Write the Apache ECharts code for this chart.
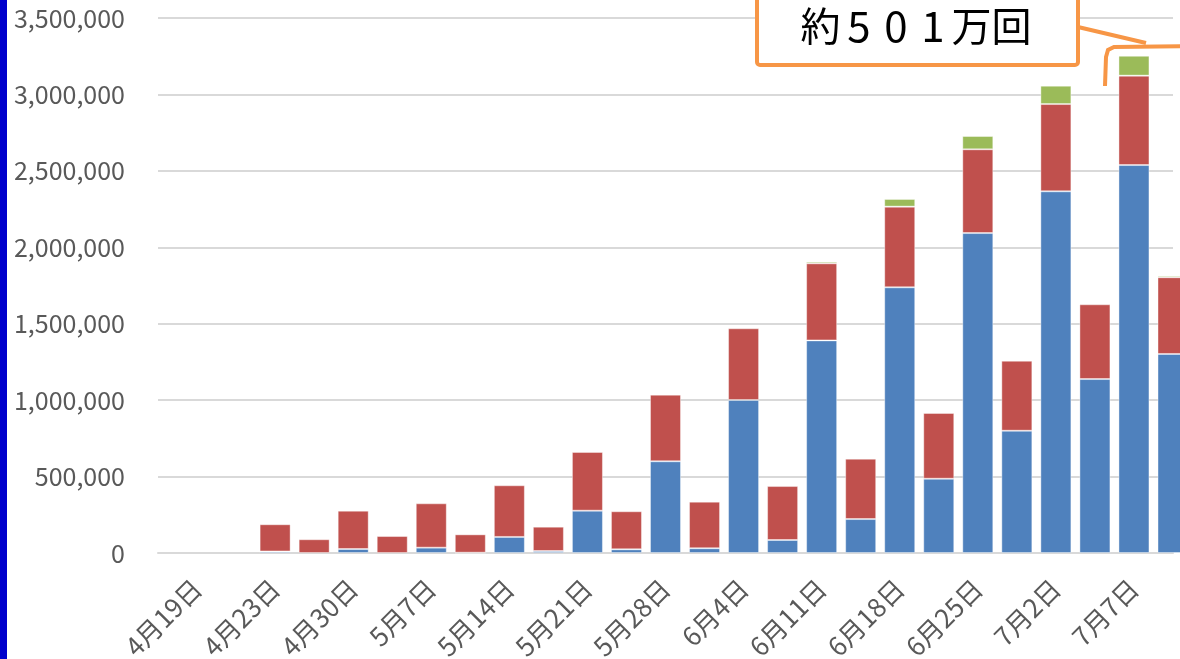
<!DOCTYPE html>
<html>
<head>
<meta charset="utf-8">
<script src="https://cdn.jsdelivr.net/npm/echarts@6/dist/echarts.min.js"></script>
<style>
  html, body { margin: 0; padding: 0; background: #fff; }
  #main { width: 1180px; height: 659px; }
</style>
</head>
<body>
<div id="main"></div>
<script>
// 日付（ラベルは1つおき）
const categories = ["", "4月19日", "", "4月23日", "", "4月30日", "", "5月7日", "", "5月14日", "", "5月21日", "", "5月28日", "",
  "6月4日", "", "6月11日", "", "6月18日", "", "6月25日", "", "7月2日", "", "7月7日", ""];

const blueValues = [null, null, null, 10000, null, 26000, null, 35000, 2000, 105000, 13000, 277000, 24000, 600000, 31000,
  1001000, 85000, 1391000, 222000, 1738000, 486000, 2093000, 800000, 2366000, 1138000, 2538000, 1302000];
const redValues = [null, null, null, 178000, 90000, 251000, 111000, 290000, 120000, 338000, 159000, 384000, 249000, 436000, 305000,
  469000, 353000, 504000, 395000, 528000, 430000, 548000, 458000, 571000, 489000, 585000, 502000];
const greenValues = [null, null, null, null, null, null, null, null, null, null, null, null, null, null, null,
  null, null, 11000, null, 50000, null, 87000, null, 120000, null, 130000, 10000];

const yTicks = { min: 0, max: 3500000, interval: 500000 };

const orange = "#F79646";
const labelFont = "'Noto Sans CJK JP', 'Noto Sans', sans-serif";

function barSeries(name, data, color) {
  return {
    name: name,
    type: "bar",
    stack: "total",
    barWidth: 31,
    data: data,
    itemStyle: {
      color: color,
      borderColor: "rgba(255,255,255,0.4)",
      borderWidth: 1,
    },
  };
}

let option = {
  backgroundColor: "#ffffff",
  animation: false,
  // ラベルがはみ出してもグリッドを縮めない
  grid: { left: 158, right: 7, top: 18, bottom: 106, containLabel: false, outerBoundsMode: "none" },
  xAxis: {
    type: "category",
    data: categories,
    boundaryGap: false, // 先頭の空カテゴリが左端に来る
    axisLine: { lineStyle: { color: "#d9d9d9", width: 2 } },
    axisTick: { show: false },
    axisLabel: {
      interval: 0,
      rotate: 45,
      margin: 31,
      color: "#595959",
      fontSize: 26,
      fontFamily: labelFont,
    },
  },
  yAxis: {
    type: "value",
    min: yTicks.min,
    max: yTicks.max,
    interval: yTicks.interval,
    axisLine: { show: false },
    axisTick: { show: false },
    splitLine: { lineStyle: { color: "#d9d9d9", width: 2 } },
    axisLabel: {
      margin: 33,
      color: "#595959",
      fontSize: 25,
      fontFamily: labelFont,
      formatter: function (v) {
        return v.toLocaleString("en-US");
      },
    },
  },
  series: [
    barSeries("A", blueValues, "#4F81BD"),
    barSeries("B", redValues, "#C0504D"),
    barSeries("C", greenValues, "#9BBB59"),
  ],
  graphic: [
    // 左端の青い帯
    { type: "rect", left: 0, top: 0, shape: { width: 7, height: 659 }, style: { fill: "#0000CC" }, z: 100 },
    // 吹き出しの線
    {
      type: "polyline",
      shape: { points: [[1078, 27], [1146, 43]] },
      style: { stroke: orange, lineWidth: 4, fill: null },
      z: 100,
    },
    {
      type: "polyline",
      shape: { points: [[1105, 86], [1106, 57], [1108, 50], [1114, 47], [1190, 46]] },
      style: { stroke: orange, lineWidth: 4, fill: null },
      z: 100,
    },
    // 注記ボックス
    {
      type: "rect",
      shape: { x: 757, y: -10, width: 321, height: 75, r: 3 },
      style: { fill: "#ffffff", stroke: orange, lineWidth: 4 },
      z: 101,
    },
    {
      type: "text",
      x: 916,
      y: 26,
      z: 102,
      style: {
        text: "{c|約}{d|5}{d|0}{d|1}{c|万回}",
        align: "center",
        verticalAlign: "middle",
        fill: "#000",
        font: "40px " + labelFont,
        rich: {
          c: { fontSize: 40, fontFamily: labelFont, fill: "#000" },
          d: { fontSize: 42, fontFamily: labelFont, fill: "#000", width: 37, align: "center" },
        },
      },
    },
  ],
};

let myChart = echarts.init(document.getElementById("main"));
myChart.setOption(option);
</script>
</body>
</html>
